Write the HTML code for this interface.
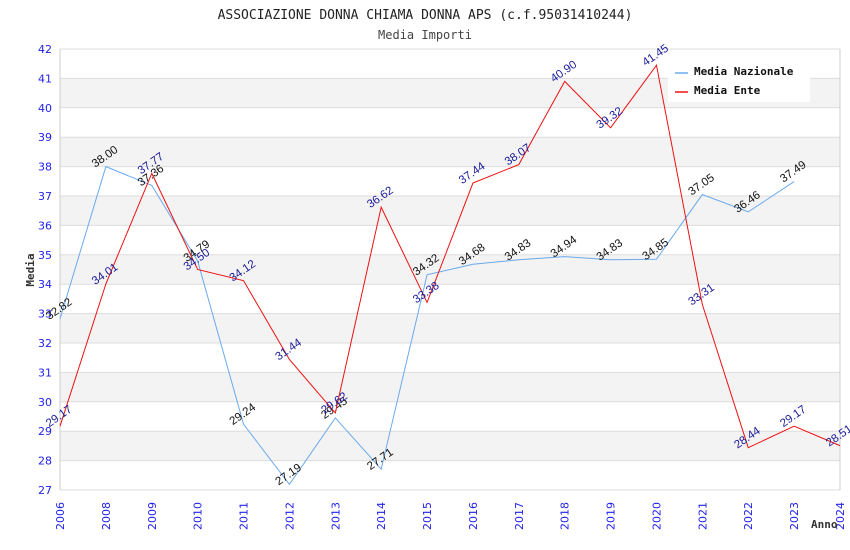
<!DOCTYPE html>
<html><head><meta charset="utf-8"><style>
body{margin:0;background:#fff}
svg{display:block;font-family:"DejaVu Sans","Liberation Sans",sans-serif}
</style></head><body>
<svg id="c" width="850" height="550">
<text x="425" y="19" text-anchor="middle" font-family="DejaVu Sans Mono, Liberation Mono, monospace" font-size="13" fill="#222">ASSOCIAZIONE DONNA CHIAMA DONNA APS (c.f.95031410244)</text>
<text x="425" y="39" text-anchor="middle" font-family="DejaVu Sans Mono, Liberation Mono, monospace" font-size="12" fill="#444">Media Importi</text>
<g id="plot"></g>
<text transform="translate(34,270) rotate(-90)" text-anchor="middle" font-family="DejaVu Sans Mono, monospace" font-size="11" font-weight="bold" fill="#333">Media</text>
<text x="811" y="528" font-family="DejaVu Sans Mono, monospace" font-size="11" font-weight="bold" fill="#333">Anno</text>
<g>
<rect x="668" y="60" width="142" height="42" fill="#fff"/>
<line x1="675" y1="73" x2="688" y2="73" stroke="#6aaaee" stroke-width="1.5"/>
<text x="694" y="75" font-family="DejaVu Sans Mono, monospace" font-size="11" font-weight="bold" fill="#111">Media Nazionale</text>
<line x1="675" y1="92" x2="688" y2="92" stroke="#ee1111" stroke-width="1.5"/>
<text x="694" y="94" font-family="DejaVu Sans Mono, monospace" font-size="11" font-weight="bold" fill="#111">Media Ente</text>
</g>
</svg>
<script>
const years=["2006","2008","2009","2010","2011","2012","2013","2014","2015","2016","2017","2018","2019","2020","2021","2022","2023","2024"];
const nazionale=[32.82,38.00,37.36,34.79,29.24,27.19,29.45,27.71,34.32,34.68,34.83,34.94,34.83,34.85,37.05,36.46,37.49,null];
const ente=[29.17,34.01,37.77,34.50,34.12,31.44,29.62,36.62,33.38,37.44,38.07,40.90,39.32,41.45,33.31,28.44,29.17,28.51];
const yTicks=[27,28,29,30,31,32,33,34,35,36,37,38,39,40,41,42];
const NS="http://www.w3.org/2000/svg";
const L=60,R=840,T=49,B=490,yMin=27,yMax=42;
const xS=i=>L+i*(R-L)/(years.length-1);
const yS=v=>B-(v-yMin)/(yMax-yMin)*(B-T);
const g=document.getElementById('plot');
function mk(t,a){const e=document.createElementNS(NS,t);for(const k in a)e.setAttribute(k,a[k]);g.appendChild(e);return e;}
for(let k=0;k<yTicks.length-1;k++){
 if(yTicks[k]%2===0){const r=mk('rect',{x:L,y:yS(yTicks[k]+1),width:R-L,height:yS(yTicks[k])-yS(yTicks[k]+1),fill:'#f3f3f3'});
 
 }
}
yTicks.forEach(v=>{
 const l=mk('line',{x1:L,x2:R,y1:yS(v),y2:yS(v),stroke:'#dddddd'});
 
 
 const t=mk('text',{x:L-8,y:yS(v)+4,'text-anchor':'end','font-size':11,fill:'#2222ee'});t.textContent=v;
 
 
});
mk('line',{x1:L,x2:L,y1:T,y2:B,stroke:'#ccc'});
mk('line',{x1:R,x2:R,y1:T,y2:B,stroke:'#ccc'});
years.forEach((y,i)=>{
 const t=mk('text',{transform:`translate(${xS(i)+4},502) rotate(-90)`,'text-anchor':'end','font-size':11,fill:'#2222ee'});t.textContent=y;
 
 
});
function series(vals,color,lab,name){
 let d='';vals.forEach((v,i)=>{if(v==null)return;d+=(d?'L':'M')+xS(i)+','+yS(v);});
 const p=mk('path',{d:d,fill:'none',stroke:color,'stroke-width':1});
 
 
 vals.forEach((v,i)=>{if(v==null)return;
  const t=mk('text',{transform:`translate(${xS(i)+1},${yS(v)-7}) rotate(-35)`,'text-anchor':'middle','font-size':11.5,'font-family':'Liberation Sans, sans-serif',fill:lab});
  t.textContent=v.toFixed(2);
  
  
 });
}
series(nazionale,'#6aaaee','#111','nazionale');
series(ente,'#ee1111','#1a1a99','ente');
</script>
</body></html>
